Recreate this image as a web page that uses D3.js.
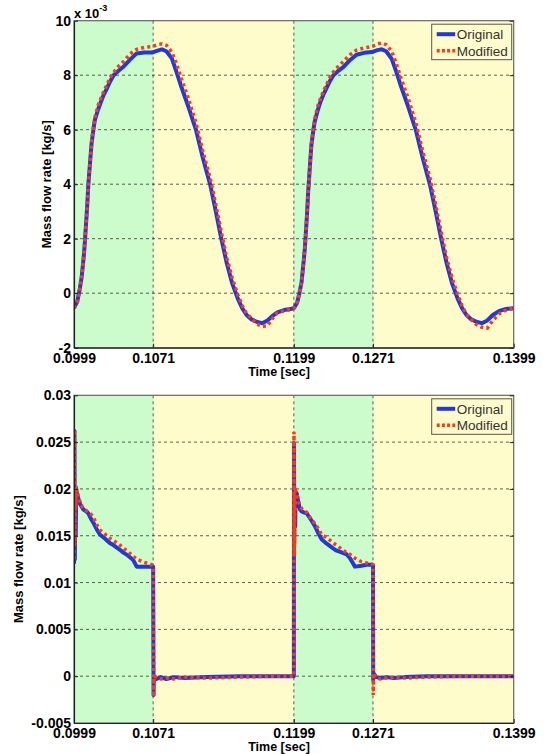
<!DOCTYPE html>
<html>
<head>
<meta charset="utf-8">
<script src="https://cdn.jsdelivr.net/npm/d3@7"></script>
<style>
    body { margin: 0; background: #fff; }
    svg { display: block; font-family: "Liberation Sans", Arial, sans-serif; }
    .axis .tick text { font-size: 14px; font-weight: bold; fill: #000; }
    .axis .tick line { stroke: #222; }
    .axis .domain { stroke: #1a2a1a; stroke-width: 1.2; }
    .grid line { stroke: #333; stroke-width: 0.8; stroke-dasharray: 3,3; }
    .axis-title { font-size: 12.5px; font-weight: bold; fill: #000; }
    .legend text { font-size: 13.5px; fill: #333; }
</style>
</head>
<body>
<div id="chart"></div>
<script>
// x axis (shared by both panels)
const timeDomain = [0.0999, 0.1399];
const timeTicks = [0.0999, 0.1071, 0.1199, 0.1271, 0.1399];
const greenZones = [[0.0999, 0.1071], [0.1199, 0.1271]];
const seriesNames = ['Original', 'Modified'];

// top panel, values in 10^-3 kg/s
const topTicks = [-2, 0, 2, 4, 6, 8, 10];
const topTime = [
    0.0999, 0.1002, 0.1004, 0.1006, 0.1008, 0.1009, 0.1011, 0.1012, 0.1014, 0.1015,
    0.1017, 0.1018, 0.1021, 0.1023, 0.1026, 0.1029, 0.1032, 0.1035, 0.1040, 0.1044,
    0.1050, 0.1056, 0.1063, 0.1070, 0.1075, 0.1079, 0.1083, 0.1088, 0.1092, 0.1096,
    0.1103, 0.1110, 0.1116, 0.1123, 0.1128, 0.1133, 0.1138, 0.1143, 0.1148, 0.1152,
    0.1156, 0.1160, 0.1165, 0.1170, 0.1175, 0.1180, 0.1184, 0.1190, 0.1196,
    0.1199, 0.1202, 0.1204, 0.1206, 0.1208, 0.1209, 0.1211, 0.1212, 0.1214, 0.1215,
    0.1217, 0.1218, 0.1221, 0.1223, 0.1226, 0.1229, 0.1232, 0.1235, 0.1240, 0.1244,
    0.1250, 0.1256, 0.1263, 0.1270, 0.1275, 0.1279, 0.1283, 0.1288, 0.1292, 0.1296,
    0.1303, 0.1310, 0.1316, 0.1323, 0.1328, 0.1333, 0.1338, 0.1343, 0.1348, 0.1352,
    0.1356, 0.1360, 0.1365, 0.1370, 0.1375, 0.1380, 0.1386, 0.1392, 0.1399
];
const topOriginal = [
    -0.55, -0.30, 0.10, 0.60, 1.40, 1.95, 3.20, 3.97, 5.00, 5.50,
    6.10, 6.36, 6.75, 6.97, 7.28, 7.52, 7.78, 8.00, 8.18, 8.31,
    8.57, 8.80, 8.83, 8.83, 8.90, 8.95, 8.88, 8.62, 8.15, 7.65,
    6.85, 5.99, 5.00, 3.97, 3.00, 2.00, 1.10, 0.35, -0.20, -0.55,
    -0.80, -0.95, -1.05, -1.10, -1.00, -0.82, -0.70, -0.62, -0.58,
    -0.55, -0.35, 0.00, 0.40, 1.20, 1.65, 2.90, 3.70, 4.90, 5.45,
    6.05, 6.30, 6.75, 7.00, 7.30, 7.55, 7.80, 8.00, 8.18, 8.30,
    8.55, 8.75, 8.82, 8.85, 8.92, 8.95, 8.88, 8.60, 8.15, 7.65,
    6.85, 5.98, 5.00, 3.95, 3.00, 2.00, 1.10, 0.35, -0.20, -0.55,
    -0.80, -0.95, -1.05, -1.10, -1.00, -0.80, -0.65, -0.58, -0.55
];
const topModified = [
    -0.55, -0.30, 0.10, 0.60, 1.40, 1.95, 3.20, 3.97, 5.00, 5.55,
    6.20, 6.45, 6.90, 7.10, 7.40, 7.65, 7.92, 8.10, 8.35, 8.50,
    8.78, 8.95, 9.02, 9.05, 9.12, 9.15, 9.10, 8.85, 8.45, 7.95,
    7.15, 6.25, 5.25, 4.20, 3.25, 2.25, 1.30, 0.55, -0.05, -0.45,
    -0.75, -0.90, -1.12, -1.22, -1.20, -0.90, -0.72, -0.65, -0.60,
    -0.55, -0.35, 0.00, 0.40, 1.20, 1.65, 2.90, 3.70, 4.90, 5.50,
    6.15, 6.40, 6.90, 7.12, 7.42, 7.68, 7.95, 8.12, 8.35, 8.50,
    8.75, 8.92, 9.00, 9.05, 9.15, 9.18, 9.12, 8.88, 8.45, 7.95,
    7.15, 6.25, 5.25, 4.20, 3.25, 2.25, 1.30, 0.55, -0.05, -0.45,
    -0.78, -0.95, -1.15, -1.25, -1.28, -1.00, -0.75, -0.62, -0.55
];

// bottom panel, values in kg/s
const bottomTicks = [-0.005, 0, 0.005, 0.01, 0.015, 0.02, 0.025, 0.03];
const bottomTime = [
    0.09990, 0.09994, 0.09998, 0.10002, 0.10006, 0.10010, 0.10015, 0.10029, 0.10045, 0.10060,
    0.10075, 0.10090, 0.10120, 0.10145, 0.10166, 0.10196, 0.10227, 0.10270, 0.10318, 0.10348,
    0.10408, 0.10439, 0.10480, 0.10529, 0.10560, 0.10620, 0.10697, 0.10710, 0.10712, 0.10714,
    0.10716, 0.10740, 0.10780, 0.10830, 0.10900, 0.11000, 0.11200, 0.11500, 0.11800,
    0.11990, 0.11991, 0.11994, 0.11998, 0.12002, 0.12006, 0.12016, 0.12030, 0.12046, 0.12061,
    0.12080, 0.12107, 0.12152, 0.12183, 0.12215, 0.12244, 0.12274, 0.12320, 0.12364, 0.12380,
    0.12430, 0.12471, 0.12501, 0.12546, 0.12607, 0.12650, 0.12698, 0.12710, 0.12712, 0.12716,
    0.12740, 0.12780, 0.12830, 0.12900, 0.13000, 0.13200, 0.13500, 0.13990
];
const bottomOriginal = [
    0.0120, 0.0262, 0.0125, 0.0199, 0.0150, 0.0200, 0.0196, 0.0190, 0.0184, 0.0181,
    0.0178, 0.0177, 0.0174, 0.0168, 0.0164, 0.0157, 0.0151, 0.0147, 0.0142, 0.0140,
    0.0135, 0.0132, 0.0129, 0.0124, 0.0117, 0.0117, 0.0117, 0.0117, 0.0042, -0.0020,
    0.0000, -0.0003, -0.0001, -0.0003, -0.0001, -0.0002, -0.0001, 0.0000, 0.0000,
    0.0000, 0.0249, 0.0142, 0.0200, 0.0160, 0.0197, 0.0195, 0.0186, 0.0178, 0.0176,
    0.0175, 0.0174, 0.0166, 0.0160, 0.0152, 0.0146, 0.0143, 0.0139, 0.0135, 0.0134,
    0.0132, 0.0130, 0.0126, 0.0117, 0.0118, 0.0119, 0.0119, 0.0118, -0.0004, 0.0003,
    -0.0001, -0.0002, -0.0001, -0.0002, -0.0001, 0.0000, 0.0000, 0.0000
];
const bottomModified = [
    0.0125, 0.0263, 0.0140, 0.0200, 0.0180, 0.0198, 0.0199, 0.0192, 0.0186, 0.0182,
    0.0179, 0.0178, 0.0175, 0.0173, 0.0170, 0.0162, 0.0156, 0.0152, 0.0147, 0.0145,
    0.0140, 0.0137, 0.0133, 0.0128, 0.0125, 0.0122, 0.0119, 0.0117, 0.0060, -0.0022,
    0.0000, -0.0001, -0.0003, -0.0002, -0.0003, -0.0001, -0.0002, -0.0001, 0.0000,
    0.0000, 0.0261, 0.0130, 0.0195, 0.0175, 0.0198, 0.0196, 0.0188, 0.0182, 0.0179,
    0.0177, 0.0175, 0.0167, 0.0163, 0.0157, 0.0151, 0.0149, 0.0145, 0.0141, 0.0140,
    0.0135, 0.0132, 0.0130, 0.0126, 0.0122, 0.0121, 0.0120, 0.0119, -0.0020, 0.0003,
    -0.0002, -0.0003, -0.0002, -0.0001, -0.0002, -0.0001, 0.0000, 0.0000
];

const width = 550, height = 754;
const colors = { original: '#2438d8', modified: '#ff3a12', green: '#ccfccc', yellow: '#fffccc' };

const svg = d3.select('#chart')
    .append('svg')
    .attr('width', width)
    .attr('height', height);

function drawPanel(cfg) {
    const left = 74, right = 513.7;

    const xScale = d3.scaleLinear().domain(timeDomain).range([left, right]);
    const yScale = d3.scaleLinear().domain(d3.extent(cfg.ticks)).range([cfg.bottom, cfg.top]);

    const g = svg.append('g').attr('class', 'panel');

    // Background zones
    g.append('rect')
        .attr('x', left).attr('y', cfg.top)
        .attr('width', right - left).attr('height', cfg.bottom - cfg.top)
        .attr('fill', colors.yellow);
    g.selectAll('.zone')
        .data(greenZones)
        .join('rect')
        .attr('class', 'zone')
        .attr('x', d => xScale(d[0]))
        .attr('y', cfg.top)
        .attr('width', d => xScale(d[1]) - xScale(d[0]))
        .attr('height', cfg.bottom - cfg.top)
        .attr('fill', colors.green);

    // Grid
    const grid = g.append('g').attr('class', 'grid');
    grid.selectAll('.hgrid')
        .data(cfg.ticks.slice(1, -1))
        .join('line')
        .attr('x1', left).attr('x2', right)
        .attr('y1', d => yScale(d)).attr('y2', d => yScale(d));
    grid.selectAll('.vgrid')
        .data(timeTicks.slice(1, -1))
        .join('line')
        .attr('x1', d => xScale(d)).attr('x2', d => xScale(d))
        .attr('y1', cfg.top).attr('y2', cfg.bottom);

    // Frame (top / right in grey)
    g.append('rect')
        .attr('x', left).attr('y', cfg.top)
        .attr('width', right - left).attr('height', cfg.bottom - cfg.top)
        .attr('fill', 'none')
        .attr('stroke', '#666')
        .attr('stroke-width', 1.2);

    // Lines
    const clipId = 'clip-' + cfg.name;
    g.append('clipPath').attr('id', clipId)
        .append('rect')
        .attr('x', left).attr('y', cfg.top)
        .attr('width', right - left).attr('height', cfg.bottom - cfg.top);

    const line = d3.line()
        .x((d, i) => xScale(cfg.time[i]))
        .y(d => yScale(d));

    const lines = g.append('g').attr('clip-path', `url(#${clipId})`);
    lines.append('path')
        .datum(cfg.original)
        .attr('d', line)
        .attr('fill', 'none')
        .attr('stroke', colors.original)
        .attr('stroke-width', 4)
        .attr('stroke-linejoin', 'round');
    lines.append('path')
        .datum(cfg.modified)
        .attr('d', line)
        .attr('fill', 'none')
        .attr('stroke', colors.modified)
        .attr('stroke-width', 3.5)
        .attr('stroke-dasharray', '3,3.2');

    // Axes
    const xAxis = d3.axisBottom(xScale)
        .tickValues(timeTicks)
        .tickFormat(d3.format('.4f'))
        .tickSizeInner(-4)
        .tickSizeOuter(0)
        .tickPadding(5);
    const yAxis = d3.axisLeft(yScale)
        .tickValues(cfg.ticks)
        .tickFormat(d => String(d))
        .tickSizeInner(-4)
        .tickSizeOuter(0)
        .tickPadding(3);

    g.append('g')
        .attr('class', 'axis x-axis')
        .attr('transform', `translate(0, ${cfg.bottom})`)
        .call(xAxis);
    g.append('g')
        .attr('class', 'axis y-axis')
        .attr('transform', `translate(${left}, 0)`)
        .call(yAxis);

    // Inner ticks on the right side
    g.append('g')
        .attr('class', 'axis y-axis-right')
        .attr('transform', `translate(${right}, 0)`)
        .call(d3.axisRight(yScale).tickValues(cfg.ticks).tickFormat('').tickSizeInner(-4).tickSizeOuter(0))
        .select('.domain').remove();

    // Axis titles
    g.append('text')
        .attr('class', 'axis-title')
        .attr('x', 279)
        .attr('y', cfg.bottom + 28)
        .attr('text-anchor', 'middle')
        .text('Time [sec]');
    g.append('text')
        .attr('class', 'axis-title')
        .attr('transform', `translate(${cfg.labelX}, ${(cfg.top + cfg.bottom) / 2}) rotate(-90)`)
        .attr('text-anchor', 'middle')
        .style('font-size', '13px')
        .text('Mass flow rate [kg/s]');

    if (cfg.exponent) {
        const ex = g.append('text')
            .attr('x', left)
            .attr('y', cfg.top - 3)
            .style('font-size', '13px')
            .style('font-weight', 'bold');
        ex.append('tspan').text('x 10');
        ex.append('tspan')
            .attr('dy', -7)
            .style('font-size', '9px')
            .text(cfg.exponent);
    }

    // Legend
    const lx = 431.7, ly = cfg.top + 3.5;
    const legend = g.append('g').attr('class', 'legend');
    legend.append('rect')
        .attr('x', lx).attr('y', ly)
        .attr('width', 80).attr('height', 35.5)
        .attr('fill', colors.yellow)
        .attr('stroke', '#555')
        .attr('stroke-width', 1);
    seriesNames.forEach((name, i) => {
        const yy = ly + 10 + i * 16.5;
        legend.append('line')
            .attr('x1', lx + 5).attr('x2', lx + 23.5)
            .attr('y1', yy).attr('y2', yy)
            .attr('stroke', i === 0 ? colors.original : colors.modified)
            .attr('stroke-width', i === 0 ? 4 : 3.5)
            .attr('stroke-dasharray', i === 0 ? null : '3,2.2');
        legend.append('text')
            .attr('x', lx + 25)
            .attr('y', yy)
            .attr('dy', '0.36em')
            .text(name);
    });
}

drawPanel({
    name: 'top', top: 20.7, bottom: 347.7, labelX: 51,
    ticks: topTicks, time: topTime,
    original: topOriginal, modified: topModified,
    exponent: '-3'
});

drawPanel({
    name: 'bottom', top: 395.3, bottom: 723, labelX: 23,
    ticks: bottomTicks, time: bottomTime,
    original: bottomOriginal, modified: bottomModified
});
</script>
</body>
</html>
